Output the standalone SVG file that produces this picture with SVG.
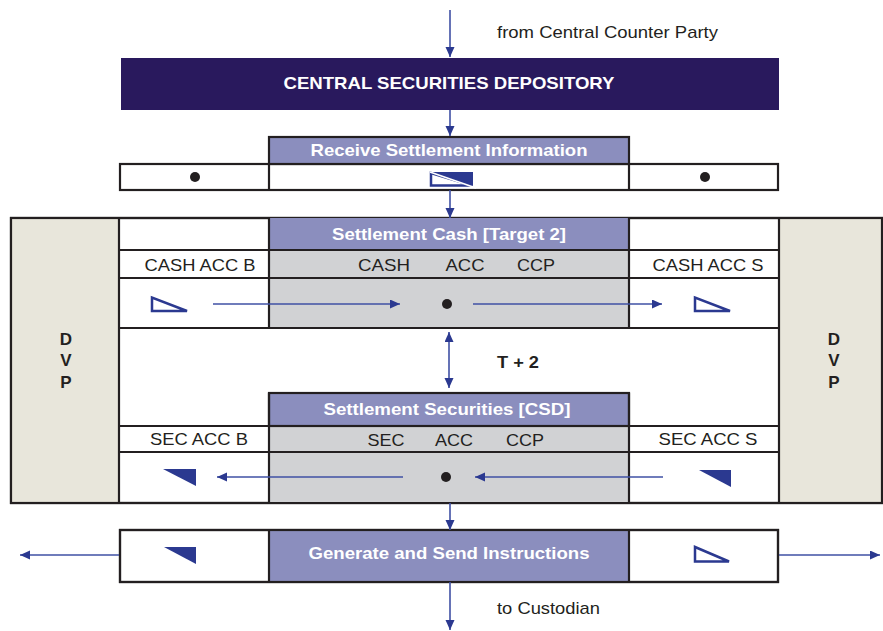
<svg xmlns="http://www.w3.org/2000/svg" width="883" height="631" viewBox="0 0 883 631">
<defs>
<marker id="ah" markerUnits="userSpaceOnUse" markerWidth="11" markerHeight="10" refX="10" refY="4.5" orient="auto-start-reverse">
<path d="M0,0 L10,4.5 L0,9 Z" fill="#2B3990"/>
</marker>
<style>
.t{font-family:"Liberation Sans",Arial,sans-serif;font-size:17px;fill:#231F20}
.w{font-family:"Liberation Sans",Arial,sans-serif;font-size:17px;font-weight:bold;fill:#FFFFFF}
.b{font-family:"Liberation Sans",Arial,sans-serif;font-size:17px;font-weight:bold;fill:#231F20}
.ln{stroke:#231F20;stroke-width:2.2;fill:none}
.bx{stroke:#231F20;stroke-width:2.2}
.pur{fill:#8B8EBE}
.gry{fill:#D1D2D4}
.dvp{fill:#E8E6DB}
.ar{stroke:#3F50A4;stroke-width:1.6;fill:none;marker-end:url(#ah)}
.tri-o{fill:#FFFFFF;stroke:#2B3990;stroke-width:2.5;stroke-linejoin:miter}
.tri-f{fill:#2B3990}
.dot{fill:#231F20}
</style>
</defs>
<rect width="883" height="631" fill="#FFFFFF"/>

<g id="csd">
<rect x="121" y="58" width="658" height="52" fill="#29195D"/>
<text class="w" x="449" y="89" text-anchor="middle" textLength="331" lengthAdjust="spacingAndGlyphs">CENTRAL SECURITIES DEPOSITORY</text>
</g>

<g id="receive">
<rect x="120" y="164" width="658" height="26" fill="#FFFFFF" class="bx"/>
<rect x="269" y="137" width="360" height="27" class="pur bx"/>
<line x1="269" y1="164" x2="269" y2="190" class="ln"/>
<line x1="629" y1="164" x2="629" y2="190" class="ln"/>
<text class="w" x="449" y="156" text-anchor="middle" textLength="277" lengthAdjust="spacingAndGlyphs">Receive Settlement Information</text>
<circle cx="195" cy="177" r="5" class="dot"/>
<circle cx="705" cy="177" r="5" class="dot"/>
<polygon points="431,173 431,185.5 472,185.5" class="tri-o"/>
<polygon points="430,172 473,172 473,186" class="tri-f"/>
<line x1="430" y1="172" x2="476" y2="188" stroke="#FFFFFF" stroke-width="1.6"/>
</g>

<g id="settlement-frame">
<rect x="11" y="218" width="871" height="285" fill="#FFFFFF" class="bx"/>
<rect x="12" y="219" width="107" height="283" class="dvp"/>
<rect x="779" y="219" width="102" height="283" class="dvp"/>
<line x1="119" y1="218" x2="119" y2="503" class="ln"/>
<line x1="779" y1="218" x2="779" y2="503" class="ln"/>
<rect x="11" y="218" width="871" height="285" fill="none" class="bx"/>
</g>

<g id="dvp-left">
<text class="b" x="66" y="345" text-anchor="middle">D</text>
<text class="b" x="66" y="366" text-anchor="middle">V</text>
<text class="b" x="66" y="388" text-anchor="middle">P</text>
</g>
<g id="dvp-right">
<text class="b" x="834" y="345" text-anchor="middle">D</text>
<text class="b" x="834" y="366" text-anchor="middle">V</text>
<text class="b" x="834" y="388" text-anchor="middle">P</text>
</g>

<g id="settlement-cash">
<rect x="269" y="218" width="360" height="32" class="pur"/>
<rect x="269" y="250" width="360" height="78" class="gry"/>
<line x1="269" y1="218" x2="269" y2="328" class="ln"/>
<line x1="629" y1="218" x2="629" y2="328" class="ln"/>
<line x1="119" y1="250" x2="779" y2="250" class="ln"/>
<line x1="119" y1="278" x2="779" y2="278" class="ln"/>
<line x1="119" y1="328" x2="779" y2="328" class="ln"/>
<text class="w" x="449" y="240" text-anchor="middle" textLength="234" lengthAdjust="spacingAndGlyphs">Settlement Cash [Target 2]</text>
<text class="t" x="200" y="271" text-anchor="middle" textLength="111" lengthAdjust="spacingAndGlyphs">CASH ACC B</text>
<text class="t" x="708" y="271" text-anchor="middle" textLength="111" lengthAdjust="spacingAndGlyphs">CASH ACC S</text>
<text class="t" x="384" y="271" text-anchor="middle" textLength="52" lengthAdjust="spacingAndGlyphs">CASH</text>
<text class="t" x="465" y="271" text-anchor="middle" textLength="39" lengthAdjust="spacingAndGlyphs">ACC</text>
<text class="t" x="536" y="271" text-anchor="middle" textLength="38" lengthAdjust="spacingAndGlyphs">CCP</text>
<circle cx="447" cy="304" r="5" class="dot"/>
<polygon points="152,297.5 152,311 187,311" class="tri-o"/>
<polygon points="695,297.5 695,311 730,311" class="tri-o"/>
</g>

<g id="t-plus-2">
<text class="b" x="518" y="368" text-anchor="middle" textLength="42" lengthAdjust="spacingAndGlyphs">T + 2</text>
</g>

<g id="settlement-securities">
<rect x="269" y="426" width="360" height="77" class="gry"/>
<rect x="269" y="393" width="360" height="33" class="pur bx"/>
<line x1="269" y1="393" x2="269" y2="503" class="ln"/>
<line x1="629" y1="393" x2="629" y2="503" class="ln"/>
<line x1="119" y1="426" x2="779" y2="426" class="ln"/>
<line x1="119" y1="452" x2="779" y2="452" class="ln"/>
<line x1="11" y1="503" x2="882" y2="503" class="ln"/>
<text class="w" x="447" y="415" text-anchor="middle" textLength="247" lengthAdjust="spacingAndGlyphs">Settlement Securities [CSD]</text>
<text class="t" x="199" y="445" text-anchor="middle" textLength="98" lengthAdjust="spacingAndGlyphs">SEC ACC B</text>
<text class="t" x="708" y="445" text-anchor="middle" textLength="99" lengthAdjust="spacingAndGlyphs">SEC ACC S</text>
<text class="t" x="386" y="446" text-anchor="middle" textLength="37" lengthAdjust="spacingAndGlyphs">SEC</text>
<text class="t" x="454" y="446" text-anchor="middle" textLength="38" lengthAdjust="spacingAndGlyphs">ACC</text>
<text class="t" x="525" y="446" text-anchor="middle" textLength="38" lengthAdjust="spacingAndGlyphs">CCP</text>
<circle cx="446" cy="477" r="5" class="dot"/>
<polygon points="163,469 196,469 196,486" class="tri-f"/>
<polygon points="699,470 731,470 731,487" class="tri-f"/>
</g>

<g id="generate">
<rect x="120" y="530" width="658" height="52" fill="#FFFFFF" class="bx"/>
<rect x="269" y="530" width="360" height="52" class="pur"/>
<line x1="269" y1="530" x2="269" y2="582" class="ln"/>
<line x1="629" y1="530" x2="629" y2="582" class="ln"/>
<rect x="120" y="530" width="658" height="52" fill="none" class="bx"/>
<text class="w" x="449" y="559" text-anchor="middle" textLength="281" lengthAdjust="spacingAndGlyphs">Generate and Send Instructions</text>
<polygon points="164,547 196,547 196,564" class="tri-f"/>
<polygon points="695,547 695,561.5 729,561.5" class="tri-o"/>
</g>

<g id="labels">
<text class="t" x="497" y="38" textLength="221" lengthAdjust="spacingAndGlyphs">from Central Counter Party</text>
<text class="t" x="497" y="614" textLength="103" lengthAdjust="spacingAndGlyphs">to Custodian</text>
</g>

<g id="connectors">
<line x1="450" y1="10" x2="450" y2="57" class="ar"/>
<line x1="450" y1="110" x2="450" y2="136" class="ar"/>
<line x1="450" y1="190" x2="450" y2="218" class="ar"/>
<line x1="213" y1="304" x2="400" y2="304" class="ar"/>
<line x1="473" y1="304" x2="662" y2="304" class="ar"/>
<line x1="449" y1="332" x2="449" y2="388" class="ar" marker-start="url(#ah)"/>
<line x1="403" y1="477" x2="217" y2="477" class="ar"/>
<line x1="663" y1="477" x2="475" y2="477" class="ar"/>
<line x1="450" y1="503" x2="450" y2="530" class="ar"/>
<line x1="119" y1="555" x2="20" y2="555" class="ar"/>
<line x1="779" y1="555" x2="880" y2="555" class="ar"/>
<line x1="450" y1="582" x2="450" y2="630" class="ar"/>
</g>
</svg>
